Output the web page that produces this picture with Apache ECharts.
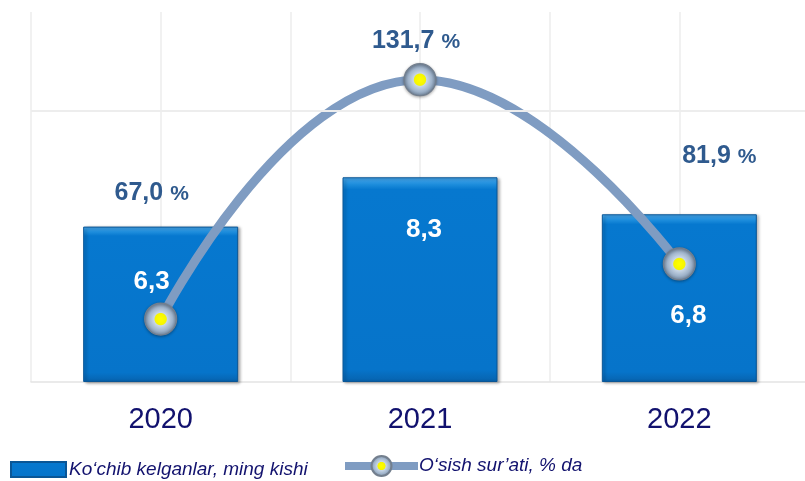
<!DOCTYPE html>
<html>
<head>
<meta charset="utf-8">
<script src="https://cdn.jsdelivr.net/npm/echarts@6/dist/echarts.min.js"></script>
<style>
  html, body { margin: 0; padding: 0; background: #ffffff; }
  #chart { width: 805px; height: 481px; }
</style>
</head>
<body>
<div id="chart"></div>
<script>
// Migration figures by year
const years = ['2020', '2021', '2022'];
const arrivals = [6.3, 8.3, 6.8];          // thousand people
const growthRate = [67.0, 131.7, 81.9];    // % vs previous year
const arrivalsName = 'Ko‘chib kelganlar, ming kishi';
const growthName = 'O‘sish sur’ati, % da';

// Label nudges (pixels) for each year
const barLabelOffsets = [[-9, -22], [4, -50], [9, 18]];
const lineLabelOffsets = [[-9, -126], [-4, -39], [40, -108]];

const fmt = v => v.toFixed(1).replace('.', ',');

const barFill = new echarts.graphic.LinearGradient(0, 0, 0, 1, [
  { offset: 0, color: '#4aa9ee' },
  { offset: 0.035, color: '#1d8ddc' },
  { offset: 0.06, color: '#0678cf' },
  { offset: 0.94, color: '#0674ca' },
  { offset: 1, color: '#0762ad' }
]);

const markerFill = new echarts.graphic.RadialGradient(0.5, 0.5, 0.5, [
  { offset: 0, color: '#ffff00' },
  { offset: 0.34, color: '#f5f500' },
  { offset: 0.40, color: '#c8d6e6' },
  { offset: 0.72, color: '#9fb3ca' },
  { offset: 1, color: '#6f8299' }
]);

const chart = echarts.init(document.getElementById('chart'), null, { renderer: 'canvas' });

const option = {
  backgroundColor: '#ffffff',
  animation: false,
  textStyle: { fontFamily: 'Liberation Sans, Arial, sans-serif' },
  grid: {
    left: 31, right: -4, top: 12, bottom: 99,
    containLabel: false,
    outerBoundsMode: 'none'
  },
  legend: [
    {
      data: [{ name: arrivalsName, icon: 'rect' }],
      left: 10, top: 460, padding: 0,
      itemWidth: 55, itemHeight: 15, itemGap: 4,
      textStyle: { fontSize: 19, fontStyle: 'italic', color: '#12126e', padding: [0, 0, 0, -2] }
    },
    {
      data: [growthName],
      left: 341, top: 455, padding: 0,
      itemWidth: 73, itemHeight: 25, itemGap: 4,
      lineStyle: { width: 8, color: '#7f9cc2' },
      textStyle: { fontSize: 19, fontStyle: 'italic', color: '#12126e', padding: [0, 0, 0, -4] }
    }
  ],
  xAxis: [
    {
      type: 'category',
      data: years,
      boundaryGap: true,
      axisLine: { show: true, lineStyle: { color: '#e3e3e3', width: 1.5 } },
      axisTick: { show: false },
      axisLabel: { fontSize: 29, color: '#11116e', margin: 23 },
      splitLine: { show: false }
    },
    {
      // half-category vertical guides
      type: 'value',
      min: 0, max: 6, interval: 1,
      position: 'top',
      axisLine: { show: false },
      axisTick: { show: false },
      axisLabel: { show: false },
      splitLine: { show: true, lineStyle: { color: '#ededed', width: 1.5 } }
    }
  ],
  yAxis: [
    { type: 'value', min: 0, max: 15, show: false },
    { type: 'value', min: 50, max: 150, show: false }
  ],
  series: [
    {
      name: arrivalsName,
      type: 'bar',
      xAxisIndex: 0,
      yAxisIndex: 0,
      barWidth: 155,
      data: arrivals.map((v, i) => ({
        value: v,
        label: { offset: barLabelOffsets[i] }
      })),
      itemStyle: {
        color: barFill,
        borderColor: '#0a5696',
        borderWidth: 1,
        shadowColor: 'rgba(0,0,0,0.35)',
        shadowBlur: 3,
        shadowOffsetX: 2,
        shadowOffsetY: 1
      },
      label: {
        show: true,
        position: 'inside',
        formatter: p => fmt(p.value),
        color: '#ffffff',
        fontSize: 26,
        fontWeight: 'bold'
      },
      markLine: {
        silent: true,
        symbol: 'none',
        label: { show: false },
        lineStyle: { color: '#ededed', width: 2, type: 'solid' },
        data: [{ yAxis: 11 }]
      }
    },
    {
      name: growthName,
      type: 'line',
      xAxisIndex: 0,
      yAxisIndex: 1,
      smooth: 0.5,
      symbol: 'circle',
      symbolSize: 32,
      data: growthRate.map((v, i) => ({
        value: v,
        label: { offset: lineLabelOffsets[i] }
      })),
      lineStyle: { color: '#7f9cc2', width: 9 },
      itemStyle: {
        color: markerFill,
        borderColor: '#737f8e',
        borderWidth: 1.2,
        shadowColor: 'rgba(0,0,0,0.3)',
        shadowBlur: 3,
        shadowOffsetY: 1
      },
      label: {
        show: true,
        position: 'inside',
        formatter: p => '{v|' + fmt(p.value) + '}{p|%}',
        rich: {
          v: { fontSize: 25, fontWeight: 'bold', color: '#2f5a8e' },
          p: { fontSize: 21, fontWeight: 'bold', color: '#2f5a8e', padding: [3, 0, 0, 7] }
        }
      },
      z: 3
    }
  ]
};

chart.setOption(option);
</script>
</body>
</html>
